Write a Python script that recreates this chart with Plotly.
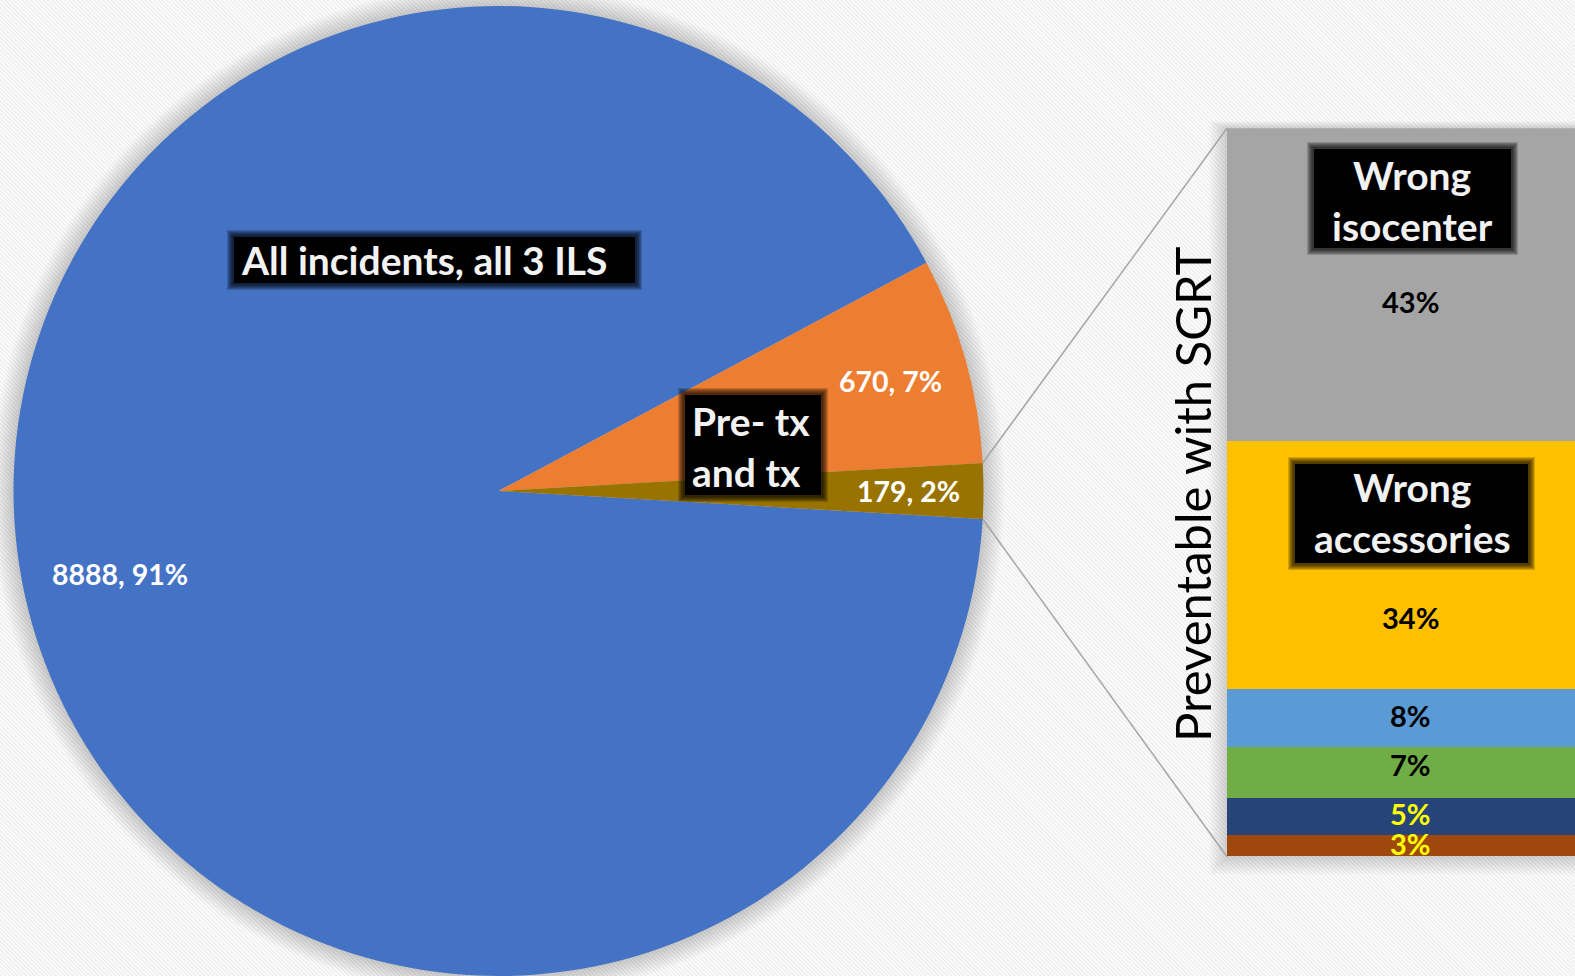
import math
import base64
import plotly.graph_objects as go

W, H = 1575, 976
FONT = "Lato"

# ---------------- data ----------------
pie_categories = ["Other incidents", "Pre- tx and tx", "Preventable with SGRT"]
pie_values = [8888, 670, 179]
pie_percent = [91, 7, 2]
pie_colors = ["#4472C4", "#ED7D31", "#997300"]

bar_categories = ["Wrong isocenter", "Wrong accessories", "Cause 3", "Cause 4", "Cause 5", "Cause 6"]
bar_percent = [43, 34, 8, 7, 5, 3]
bar_colors = ["#A5A5A5", "#FFC000", "#5B9BD5", "#70AD47", "#264478", "#9E480E"]
bar_text_colors = ["#000000", "#000000", "#000000", "#000000", "#FFFF00", "#FFFF00"]

box_texts = ["All incidents, all 3 ILS", "Pre- tx<br>and tx", "Wrong<br>isocenter", "Wrong<br>accessories"]
axis_title = "Preventable with SGRT"

# ---------------- geometry helpers ----------------
def px(x):
    return x / W

def py(y):
    return 1 - y / H

# pie placement (pixels)
CX, CY = 498.5, 491.0
cyp = py(CY)
half = min(cyp, 1 - cyp)
R = half * H
pie_domain_y = [cyp - half, cyp + half]
pie_domain_x = [px(CX - R), px(CX + R)]

total = sum(pie_values)
angles = [v / total * 360 for v in pie_values]
rotation = 90 + angles[2] / 2  # small slice centred at 3 o'clock

starts = []
a = rotation
for ang in angles:
    starts.append(a)
    a += ang

def pie_point(angle_deg, frac):
    t = math.radians(angle_deg)
    return CX + frac * R * math.sin(t), CY - frac * R * math.cos(t)

# bar placement (pixels)
BX0 = 1227.0
BY0, BY1 = 128.3, 856.7
BAR_PX_W = 366.0

fig = go.Figure()

fig.add_trace(go.Pie(
    values=pie_values, labels=pie_categories, sort=False, direction="clockwise",
    rotation=rotation, marker=dict(colors=pie_colors, line=dict(width=0)),
    textinfo="none", hoverinfo="label+value+percent", showlegend=False,
    domain=dict(x=pie_domain_x, y=pie_domain_y),
))

# stacked bar: bottom segment first
for name, val, col in reversed(list(zip(bar_categories, bar_percent, bar_colors))):
    fig.add_trace(go.Bar(
        x=[0], y=[val], name=name, marker=dict(color=col, line=dict(width=0)),
        width=1, showlegend=False, xaxis="x", yaxis="y",
    ))

shapes = []
annotations = []

# soft glow behind the pie
for k in range(1, 13):
    rr = R + k * 1.8
    shapes.append(dict(type="circle", xref="paper", yref="paper",
                       x0=px(CX - rr), x1=px(CX + rr), y0=py(CY + rr), y1=py(CY - rr),
                       fillcolor="rgba(0,0,0,0.016)", line=dict(width=0), layer="below"))
# soft glow behind the bar
for k in range(1, 11):
    e = k * 1.8
    shapes.append(dict(type="rect", xref="paper", yref="paper",
                       x0=px(BX0 - e), x1=1, y0=py(BY1 + e), y1=py(BY0 - e * 0.4),
                       fillcolor="rgba(0,0,0,0.015)", line=dict(width=0), layer="below"))

# connector lines from the small slice to the bar
p_top = pie_point(starts[2], 1.0)
p_bot = pie_point(starts[2] + angles[2], 1.0)
for (x0, y0), (x1, y1) in [(p_top, (BX0, BY0)), (p_bot, (BX0, BY1))]:
    shapes.append(dict(type="line", xref="paper", yref="paper",
                       x0=px(x0), y0=py(y0), x1=px(x1), y1=py(y1),
                       line=dict(color="#A6A6A6", width=1.5), layer="below"))

# pie value labels
label_frac = [0.80, 0.84, 0.846]
for i, (v, p) in enumerate(zip(pie_values, pie_percent)):
    mid = starts[i] + angles[i] / 2
    lx, ly = pie_point(mid, label_frac[i])
    annotations.append(dict(xref="paper", yref="paper", x=px(lx), y=py(ly),
                            text=f"<b>{v}, {p}%</b>", showarrow=False,
                            xanchor="center", yanchor="middle",
                            font=dict(family=FONT, size=28.5, color="#FFFFFF")))

# bar percentage labels
label_shift = [-17, -52, 3, 8, 3, 2]
cum = 0
mids = {}
for name, val in reversed(list(zip(bar_categories, bar_percent))):
    mids[name] = cum + val / 2
    cum += val
for i, (name, val) in enumerate(zip(bar_categories, bar_percent)):
    annotations.append(dict(xref="x", yref="y", x=0, y=mids[name], yshift=label_shift[i],
                            text=f"<b>{val}%</b>", showarrow=False,
                            xanchor="center", yanchor="middle",
                            font=dict(family=FONT, size=29, color=bar_text_colors[i])))

# black callout boxes with a blurred edge
boxes = [(232, 235, 637, 285), (683, 393, 823, 497), (1312, 147, 1513, 250), (1293, 462, 1530, 565)]
for (x0, y0, x1, y1) in boxes:
    for e in [5, 4, 3, 2, 1, 0]:
        shapes.append(dict(type="rect", xref="paper", yref="paper",
                           x0=px(x0 - e), x1=px(x1 + e), y0=py(y1 + e), y1=py(y0 - e),
                           fillcolor="rgba(0,0,0,0.17)", line=dict(width=0), layer="above"))
    shapes.append(dict(type="rect", xref="paper", yref="paper",
                       x0=px(x0 + 2), x1=px(x1 - 2), y0=py(y1 - 2), y1=py(y0 + 2),
                       fillcolor="#000000", line=dict(width=0), layer="above"))

box_anchor = [(238.5, 260, "left"), (690, 446, "left"), (1412, 200, "center"), (1412, 512, "center")]
for txt, (x, y, anc) in zip(box_texts, box_anchor):
    annotations.append(dict(xref="paper", yref="paper", x=px(x), y=py(y),
                            text=f"<b>{txt}</b>", showarrow=False, align=anc,
                            xanchor=anc, yanchor="middle",
                            font=dict(family=FONT, size=39, color="#F2F2F2")))

# rotated axis title
annotations.append(dict(xref="paper", yref="paper", x=px(1192), y=py(494),
                        text=axis_title, textangle=-90, showarrow=False,
                        xanchor="center", yanchor="middle",
                        font=dict(family=FONT, size=49, color="#000000")))

# striped background as an inline svg image
svg = (f"<svg xmlns='http://www.w3.org/2000/svg' width='{W}' height='{H}'>"
       "<defs><pattern id='p' width='3' height='3' patternUnits='userSpaceOnUse' "
       "patternTransform='rotate(-45)'><rect width='3' height='3' fill='#ffffff'/>"
       "<rect width='1.4' height='3' fill='#ebebeb'/></pattern></defs>"
       f"<rect width='{W}' height='{H}' fill='url(#p)'/></svg>")
bg_src = "data:image/svg+xml;base64," + base64.b64encode(svg.encode()).decode()

fig.update_layout(
    width=W, height=H, margin=dict(l=0, r=0, t=0, b=0, pad=0),
    paper_bgcolor="#FFFFFF", plot_bgcolor="rgba(0,0,0,0)",
    barmode="stack", bargap=0,
    xaxis=dict(domain=[px(BX0), 1], range=[-0.5, -0.5 + (W - BX0) / BAR_PX_W],
               visible=False, fixedrange=True),
    yaxis=dict(domain=[py(BY1), py(BY0)], range=[0, 100], visible=False, fixedrange=True),
    shapes=shapes, annotations=annotations,
    images=[dict(source=bg_src, xref="paper", yref="paper", x=0, y=1, sizex=1, sizey=1,
                 xanchor="left", yanchor="top", sizing="stretch", layer="below")],
    font=dict(family=FONT),
)

fig.write_html("out.html")
